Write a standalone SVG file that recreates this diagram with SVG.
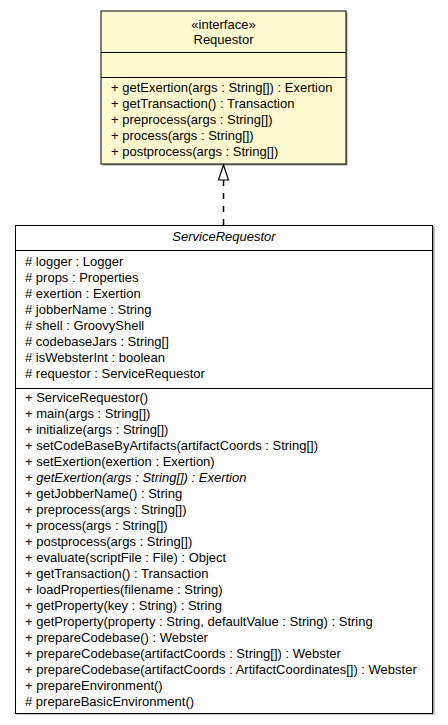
<svg xmlns="http://www.w3.org/2000/svg" width="448" height="725" viewBox="0 0 448 725">
<style>
  text { font-family: "Liberation Sans", Arial, sans-serif; font-size: 13px; fill: #000; }
  .c { text-anchor: middle; }
  .i { font-style: italic; }
  .box { stroke: #000; stroke-width: 1; }
  .shadow { fill: #9a9a9a; }
  .div { stroke: #000; stroke-width: 1; }
</style>
<rect width="448" height="725" fill="#fff"/>
<g id="Requestor">
  <rect class="shadow" x="102.5" y="12.5" width="245" height="153"/>
  <rect class="box" x="101" y="11" width="245" height="153" fill="#FFF9CF"/>
  <line class="div" x1="101" y1="52.5" x2="346" y2="52.5"/>
  <line class="div" x1="101" y1="77.5" x2="346" y2="77.5"/>
  <text class="c" x="223.5" y="29">«interface»</text>
  <text class="c" x="223.5" y="44">Requestor</text>
  <text x="111" y="92">+ getExertion(args : String[]) : Exertion</text>
  <text x="111" y="108">+ getTransaction() : Transaction</text>
  <text x="111" y="124">+ preprocess(args : String[])</text>
  <text x="111" y="140">+ process(args : String[])</text>
  <text x="111" y="156">+ postprocess(args : String[])</text>
</g>
<g id="ServiceRequestor">
  <rect class="shadow" x="16.5" y="226.5" width="418" height="488"/>
  <rect class="box" x="15.5" y="225.5" width="417" height="488" fill="#fff"/>
  <line class="div" x1="15.5" y1="250.5" x2="432.5" y2="250.5"/>
  <line class="div" x1="15.5" y1="388.5" x2="432.5" y2="388.5"/>
  <text class="c i" x="224" y="241">ServiceRequestor</text>
  <text x="25" y="266"># logger : Logger</text>
  <text x="25" y="282"># props : Properties</text>
  <text x="25" y="298"># exertion : Exertion</text>
  <text x="25" y="314"># jobberName : String</text>
  <text x="25" y="330"># shell : GroovyShell</text>
  <text x="25" y="346"># codebaseJars : String[]</text>
  <text x="25" y="362"># isWebsterInt : boolean</text>
  <text x="25" y="378"># requestor : ServiceRequestor</text>
  <text x="25" y="402">+ ServiceRequestor()</text>
  <text x="25" y="418">+ main(args : String[])</text>
  <text x="25" y="434">+ initialize(args : String[])</text>
  <text x="25" y="450">+ setCodeBaseByArtifacts(artifactCoords : String[])</text>
  <text x="25" y="466">+ setExertion(exertion : Exertion)</text>
  <text class="i" x="25" y="482">+ getExertion(args : String[]) : Exertion</text>
  <text x="25" y="498">+ getJobberName() : String</text>
  <text x="25" y="514">+ preprocess(args : String[])</text>
  <text x="25" y="530">+ process(args : String[])</text>
  <text x="25" y="546">+ postprocess(args : String[])</text>
  <text x="25" y="562">+ evaluate(scriptFile : File) : Object</text>
  <text x="25" y="578">+ getTransaction() : Transaction</text>
  <text x="25" y="594">+ loadProperties(filename : String)</text>
  <text x="25" y="610">+ getProperty(key : String) : String</text>
  <text x="25" y="626">+ getProperty(property : String, defaultValue : String) : String</text>
  <text x="25" y="642">+ prepareCodebase() : Webster</text>
  <text x="25" y="658">+ prepareCodebase(artifactCoords : String[]) : Webster</text>
  <text x="25" y="674">+ prepareCodebase(artifactCoords : ArtifactCoordinates[]) : Webster</text>
  <text x="25" y="690">+ prepareEnvironment()</text>
  <text x="25" y="706"># prepareBasicEnvironment()</text>
</g>
<g id="connectors">
  <line x1="223.5" y1="180" x2="223.5" y2="225" stroke="#000" stroke-width="1.5" stroke-dasharray="6,7"/>
  <polygon points="223.5,165 218.5,180 228.5,180" fill="#fff" stroke="#000" stroke-width="1.2"/>
</g>
</svg>
